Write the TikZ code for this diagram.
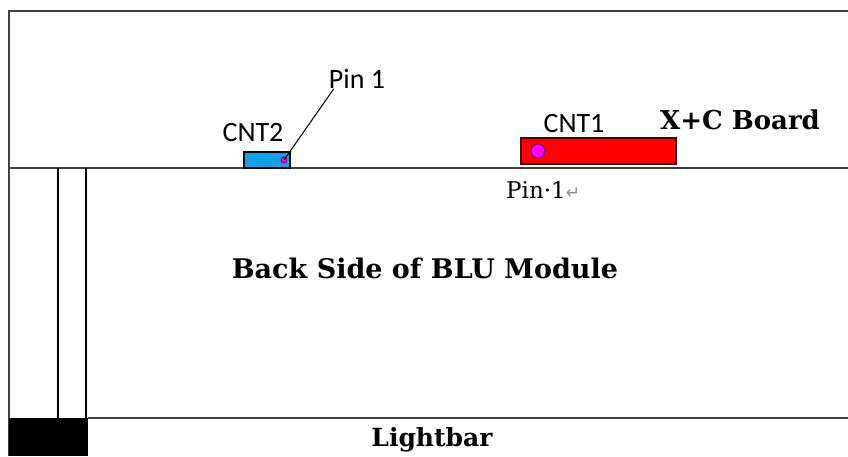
\documentclass[tikz,border=0pt]{standalone}
\usepackage{fontspec}
\setmainfont{DejaVu Serif}
\newfontfamily\cali{Carlito}
\newfontfamily\arrowfont{DejaVu Sans}
\definecolor{cntblue}{RGB}{20,160,230}
\definecolor{pinpink}{RGB}{255,0,255}
\tikzset{
  frameline/.style={line width=2,black!75},
  sanslabel/.style={font=\cali\fontsize{28}{28}\selectfont,inner sep=0},
  seriflabel/.style={inner sep=0}
}
\begin{document}
\begin{tikzpicture}[x=1pt,y=-1pt]
			\useasboundingbox (0,0) rectangle (848,456);
			%frame
			\draw[frameline] (848,11) -- (9,11) -- (9,456);
			\draw[frameline] (9,168) -- (848,168);
			\draw[frameline] (88,418) -- (848,418);
			\draw[line width=1.5] (58,168) -- (58,418);
			\draw[line width=1.5] (86,168) -- (86,418);
			\fill (9,418) rectangle (88,456);
			%CNT2
			\draw[line width=1.2,fill=cntblue] (244,152) rectangle (290,168);
			\draw[line width=0.8,draw=violet,fill=pinpink] (284,160) circle (3) coordinate (pin2);
			\node[sanslabel] (cnt2) at (253,133) {CNT2};
			\node[sanslabel] (pin2label) at (357,79) {Pin 1};
			\coordinate (pin2start) at ([xshift=5pt]pin2label.south west);
			\draw[line width=1] (pin2start) -- (pin2);
			%CNT1
			\draw[line width=1.5,draw=black!70!red,fill=red] (521,138) rectangle (676,164);
			\draw[line width=1.2,draw=violet,fill=pinpink] (538,151) circle (7) coordinate (pin1);
			\node[sanslabel] (cnt1) at (574,124) {CNT1};
			\node[seriflabel,font=\bfseries\fontsize{26}{26}\selectfont] (board) at (740,120) {X+C Board};
			\node[seriflabel,font=\fontsize{23}{23}\selectfont,anchor=west] (pin1label) at (506,190) {Pin\textperiodcentered 1{\arrowfont\fontsize{17}{17}\selectfont\color{black!45}↵}};
			%labels
			\node[seriflabel,font=\bfseries\fontsize{27}{27}\selectfont] (module) at (425,268) {Back Side of BLU Module};
			\node[seriflabel,font=\bfseries\fontsize{25}{25}\selectfont] (lightbar) at (432,440) {Lightbar};
		\end{tikzpicture}
\end{document}
